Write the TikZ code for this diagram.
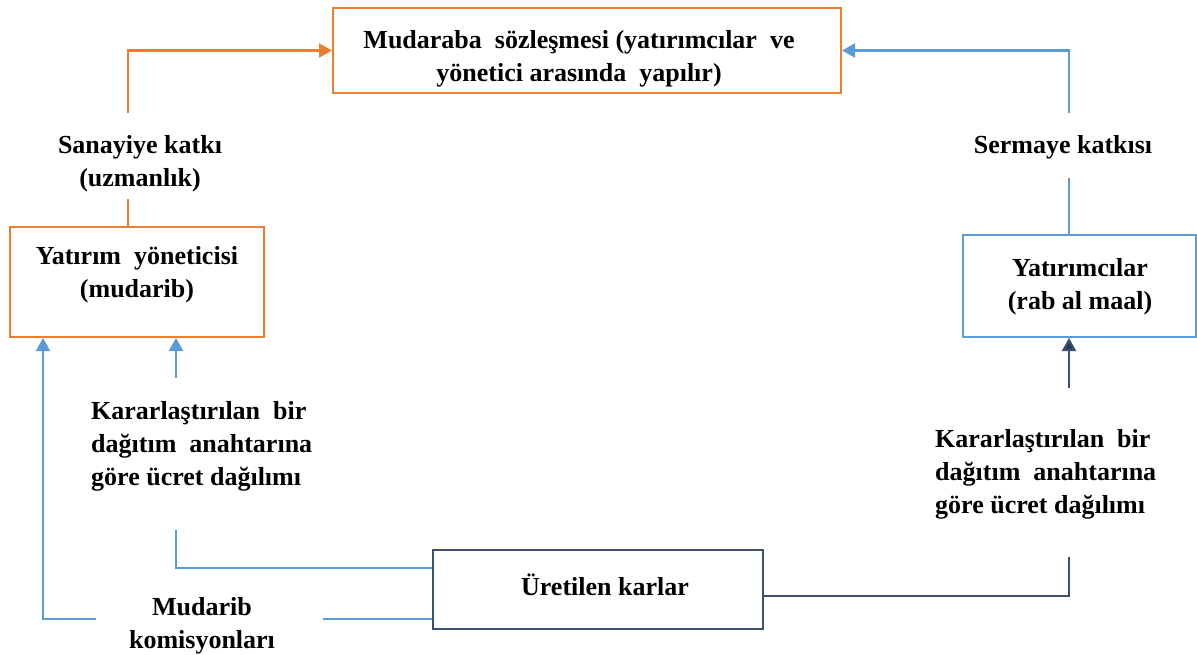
\documentclass[tikz,border=0pt]{standalone}
\usepackage{fontspec}
\setmainfont{Liberation Serif}
\usetikzlibrary{arrows.meta}
\definecolor{cOrange}{HTML}{ED7D31}
\definecolor{cBlue}{HTML}{5B9BD5}
\definecolor{cNavy}{HTML}{3A506E}
\definecolor{cNavyTip}{HTML}{22385C}
\begin{document}
\begin{tikzpicture}[x=1pt,y=-1pt,
  font=\fontsize{26}{33}\selectfont\bfseries,
  txt/.style={inner sep=0pt, align=center},
  ltxt/.style={inner sep=0pt, align=left, anchor=west},
  boxnode/.style={draw, line width=2pt, inner sep=0pt},
  oline/.style={draw=cOrange, line width=2.2pt},
  bline/.style={draw=cBlue, line width=2.2pt},
  nline/.style={draw=cNavy, line width=2.2pt},
  tipo/.style={-{Triangle[length=13pt,width=14pt,fill=cOrange]}},
  tipb/.style={-{Triangle[length=13pt,width=14pt,fill=cBlue]}},
  tipn/.style={-{Triangle[length=13pt,width=14pt,fill=cNavyTip]}}]
\useasboundingbox (0,0) rectangle (1197,654);

% boxes
\node[boxnode, draw=cOrange, minimum width=508pt, minimum height=85pt] (contract) at (587,50.5) {};
\node[boxnode, draw=cOrange, minimum width=254pt, minimum height=110pt] (mudaribbox) at (137,282) {};
\node[boxnode, draw=cBlue, minimum width=233pt, minimum height=102pt] (invbox) at (1079.5,286) {};
\node[boxnode, draw=cNavy, minimum width=330pt, minimum height=79pt] (profits) at (598,589.5) {};

% box texts
\node[txt] (contractT) at (579,59) {Mudaraba\ \ sözleşmesi (yatırımcılar\ \ ve\\yönetici arasında\ \ yapılır)};
\node[txt] (mudaribT) at (137,275) {Yatırım\ \ yöneticisi\\(mudarib)};
\node[txt] (invT) at (1080,287) {Yatırımcılar\\(rab\ al maal)};
\node[txt] (profitsT) at (605,585) {Üretilen karlar};

% labels
\node[txt] (sanayi) at (140,164) {Sanayiye katkı\\(uzmanlık)};
\node[txt] (sermaye) at (1063,147) {Sermaye katkısı};
\node[ltxt] (leftdist) at (91,446) {Kararlaştırılan\ \ bir\\dağıtım\ \ anahtarına\\göre ücret dağılımı};
\node[ltxt] (rightdist) at (935,474) {Kararlaştırılan\ \ bir\\dağıtım\ \ anahtarına\\göre ücret dağılımı};
\node[txt] (mudkom) at (202,626) {Mudarib\\komisyonları};

% break points of connectors
\coordinate (o1) at (128,113);
\coordinate (o2) at (128,199);
\coordinate (b1) at (1069,113);
\coordinate (b2) at (1069,178);
\coordinate (l1) at (176,378);
\coordinate (l2) at (176,530);
\coordinate (m1) at (96,619);
\coordinate (m2) at (323,619);
\coordinate (r1) at (1069,557);
\coordinate (r2) at (1069,388);

% orange: expertise contribution
\draw[oline] (mudaribbox.north -| o2) -- (o2);
\draw[oline, tipo] (o1) |- (contract.west);

% blue: capital contribution
\draw[bline] (invbox.north -| b2) -- (b2);
\draw[bline, tipb] (b1) |- (contract.east);

% left: distribution to mudarib
\draw[bline, tipb] (l1) -- (l1 |- mudaribbox.south);
\draw[bline] (l2) |- ([yshift=21.5pt]profits.west);
\draw[bline, tipb] (m1) -| ([xshift=34pt]mudaribbox.south west);
\draw[bline] (m2) -- (m2 -| profits.west);

% right: distribution to investors
\draw[nline] ([yshift=-6.5pt]profits.east) -| (r1);
\draw[nline, tipn] (r2) -- (r2 |- invbox.south);
\end{tikzpicture}
\end{document}
